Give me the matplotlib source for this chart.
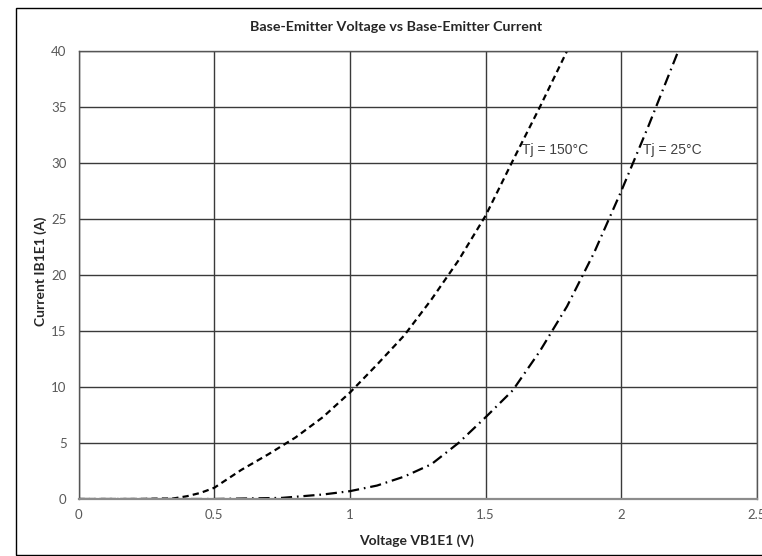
import matplotlib
matplotlib.use("Agg")
import matplotlib.pyplot as plt
from matplotlib.patches import Rectangle

plt.rcParams['font.family'] = ['Lato', 'DejaVu Sans']
plt.rcParams['lines.scale_dashes'] = False

# Data
v_150 = [0.0, 0.2, 0.35, 0.4, 0.45, 0.5, 0.6, 0.7, 0.8, 0.9, 1.0, 1.1, 1.2, 1.3, 1.4, 1.5, 1.6, 1.7, 1.8]
i_150 = [0.0, 0.0, 0.05, 0.25, 0.55, 1.0, 2.6, 4.0, 5.5, 7.3, 9.5, 12.0, 14.6, 17.8, 21.3, 25.3, 30.2, 35.0, 40.0]

v_25 = [0.0, 0.5, 0.75, 0.9, 1.0, 1.1, 1.2, 1.3, 1.4, 1.5, 1.6, 1.7, 1.8, 1.9, 2.0, 2.1, 2.21]
i_25 = [0.0, 0.0, 0.1, 0.4, 0.7, 1.2, 2.0, 3.1, 5.0, 7.3, 9.7, 13.2, 17.2, 22.0, 27.5, 33.3, 40.0]

x_ticks = [0, 0.5, 1, 1.5, 2, 2.5]
x_tick_labels = ['0', '0.5', '1', '1.5', '2', '2.5']
y_ticks = [0, 5, 10, 15, 20, 25, 30, 35, 40]

title = 'Base-Emitter Voltage vs Base-Emitter Current'
x_label = 'Voltage VB1E1 (V)'
y_label = 'Current IB1E1 (A)'
label_150 = 'Tj = 150°C'
label_25 = 'Tj = 25°C'

W, H = 762, 556
fig = plt.figure(figsize=(W / 100, H / 100), dpi=100)
fig.patch.set_facecolor('white')

# outer chart frame
fig.add_artist(Rectangle((16 / W, 1 - 555 / H), 770 / W, (555 - 8) / H,
                         transform=fig.transFigure, fill=False,
                         edgecolor='black', linewidth=1.0))

ax = fig.add_axes([78.5 / W, 1 - 499 / H, (757 - 78.5) / W, (499 - 51) / H])
ax.set_xlim(0, 2.5)
ax.set_ylim(0, 40)
ax.set_xticks(x_ticks)
ax.set_xticklabels(x_tick_labels)
ax.set_yticks(y_ticks)

ax.grid(True, color='#3a3a3a', linewidth=1.0)
ax.set_axisbelow(True)
for s in ['top', 'right', 'left']:
    ax.spines[s].set_color('#555555')
    ax.spines[s].set_linewidth(1.0)
ax.spines['bottom'].set_color('#8c8c8c')
ax.spines['bottom'].set_linewidth(1.6)

ax.tick_params(length=0, labelsize=9.5, colors='#595959')
ax.tick_params(axis='y', pad=8.5)
ax.tick_params(axis='x', pad=7)

ax.plot(v_150, i_150, color='black', linewidth=1.6, linestyle=(0, (4.5, 3.0)),
        clip_on=True)
ax.plot(v_25, i_25, color='black', linewidth=1.6,
        linestyle=(0, (8.0, 3.5, 1.2, 3.5)), clip_on=True)

ax.text(1.635, 31.2, label_150, fontsize=10, color='#404040',
        family=['Liberation Sans', 'DejaVu Sans'], va='center', ha='left')
ax.text(2.08, 31.2, label_25, fontsize=10, color='#404040',
        family=['Liberation Sans', 'DejaVu Sans'], va='center', ha='left')

fig.text(396 / W, 1 - 27 / H, title, fontsize=10.3, fontweight='bold',
         color='#262626', ha='center', va='center')
fig.text(417 / W, 1 - 540.5 / H, x_label, fontsize=10, fontweight='bold',
         color='#262626', ha='center', va='center')
fig.text(40.5 / W, 1 - 271 / H, y_label, fontsize=10, fontweight='bold',
         color='#262626', ha='center', va='center', rotation=90)

fig.savefig('out.png', dpi=100, facecolor='white')
